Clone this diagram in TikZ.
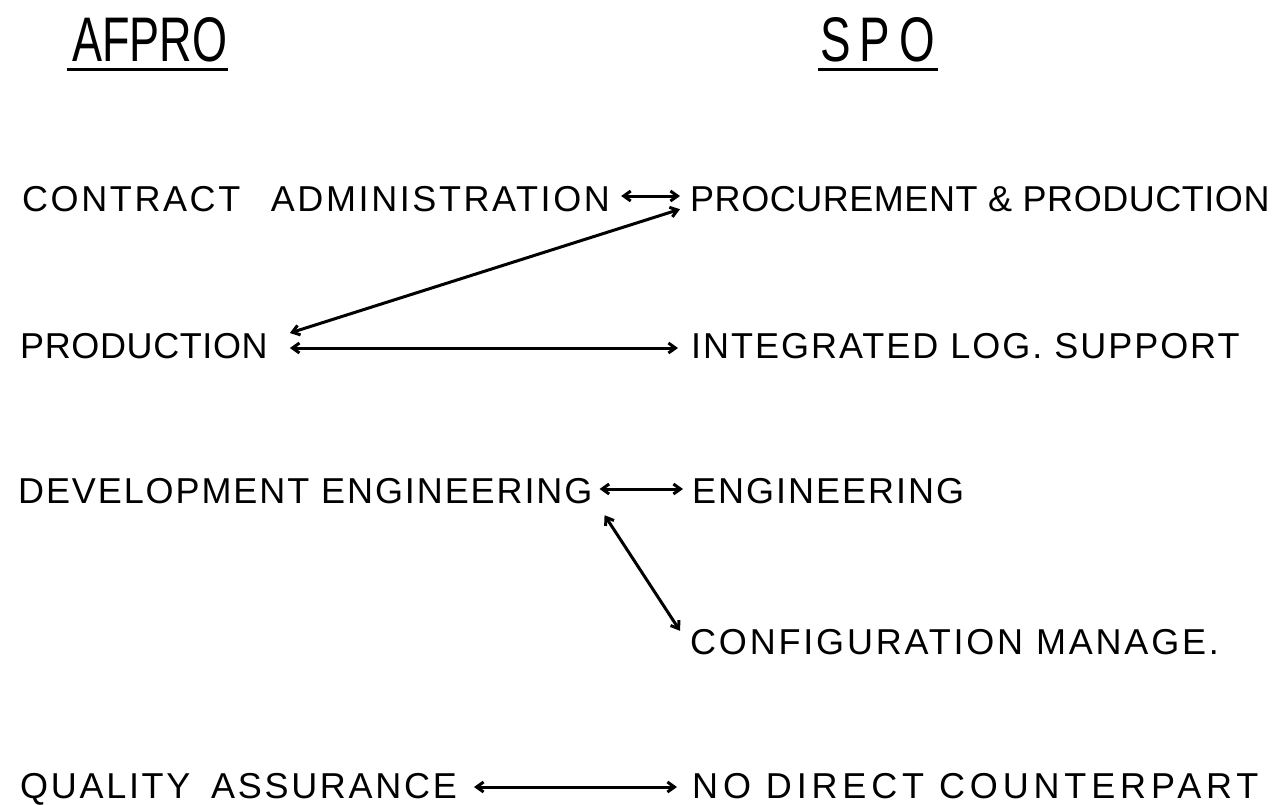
\documentclass[tikz,border=0pt]{standalone}
\usepackage{fontspec}
\usepackage{graphicx}
\usetikzlibrary{arrows.meta}
\newfontfamily\labfont{Liberation Sans}
\newcommand\tracked[2]{{\addfontfeature{LetterSpace=#1}#2}}
\tikzset{
  lbl/.style={font=\labfont\fontsize{36pt}{40pt}\selectfont, text height=26pt, text depth=0pt, inner sep=0pt, anchor=west},
  hdr/.style={font=\labfont, inner sep=0pt, anchor=west},
  uline/.style={line width=3pt},
  link/.style={line width=3pt, {Straight Barb[length=7pt,width=10pt]}-{Straight Barb[length=7pt,width=10pt]}}
}
\begin{document}
\begin{tikzpicture}[x=1pt,y=-1pt]
\useasboundingbox[fill=white] (0,0) rectangle (1288,804);

% column headings
\node[hdr] (afpro) at (72,40) {\resizebox{155pt}{44pt}{AFPRO}};
\node[hdr] (spo) at (820,40) {\resizebox{115pt}{44pt}{S\kern2pt P\kern2pt O}};
\draw[uline] ([xshift=-5pt,yshift=-7pt]afpro.south west) -- ([xshift=1pt,yshift=-7pt]afpro.south east);
\draw[uline] ([xshift=-2pt,yshift=-7pt]spo.south west) -- ([xshift=3pt,yshift=-7pt]spo.south east);

% left column
\node[lbl] (ca) at (22,198) {\tracked{7.2}{CONTRACT\hspace{18pt} ADMINISTRATION}};
\node[lbl] (prod) at (20,345) {\tracked{1.7}{PRODUCTION}};
\node[lbl] (de) at (18,490) {\tracked{5.3}{DEVELOPMENT ENGINEERING}};
\node[lbl] (qa) at (20,785) {\tracked{7.5}{QUALITY\hspace{8pt} ASSURANCE}};

% right column
\node[lbl] (pp) at (690,198) {\tracked{1.5}{PROCUREMENT \& PRODUCTION}};
\node[lbl] (ils) at (691,345) {\tracked{5.5}{INTEGRATED LOG. SUPPORT}};
\node[lbl] (eng) at (692,490) {\tracked{5.5}{ENGINEERING}};
\node[lbl] (cm) at (690,641) {\tracked{7.8}{CONFIGURATION MANAGE.}};
\node[lbl] (ndc) at (692,785) {\tracked{13.5}{NO DIRECT COUNTERPART}};

% connections
\path (ca.east) ++(11,-2) coordinate (caR) (pp.west) ++(-10,-2) coordinate (ppL);
\draw[link] (caR) -- (ppL);
\draw[link] ([xshift=-10pt,yshift=2pt]pp.south west) -- ([xshift=22pt,yshift=12pt]prod.east);
\draw[link] ([xshift=22pt,yshift=-3pt]prod.east) -- ([xshift=-13pt,yshift=-3pt]ils.west);
\draw[link] ([xshift=7pt,yshift=1pt]de.east) -- ([xshift=-9pt,yshift=1pt]eng.west);
\draw[link] ([xshift=12pt,yshift=-12pt]de.south east) -- ([xshift=-10pt,yshift=-3pt]cm.north west);
\draw[link] ([xshift=17pt,yshift=-2pt]qa.east) -- ([xshift=-15pt,yshift=-2pt]ndc.west);
\end{tikzpicture}
\end{document}
